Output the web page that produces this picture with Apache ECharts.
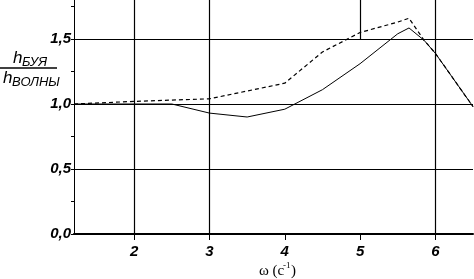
<!DOCTYPE html>
<html>
<head>
<meta charset="utf-8">
<script src="https://cdn.jsdelivr.net/npm/echarts@6/dist/echarts.min.js"></script>
<style>html,body{margin:0;padding:0;background:#fff}#c{width:474px;height:279px}</style>
</head>
<body>
<div id="c"></div>
<script>
// data
const omegaSolid = [1.2, 2.0, 2.5, 3.0, 3.5, 4.0, 4.5, 5.0, 5.5, 5.65, 5.85, 6.0, 6.5];
const ratioSolid = [1.0, 1.0, 1.0, 0.93, 0.9, 0.96, 1.11, 1.31, 1.54, 1.585, 1.49, 1.39, 0.98];
const omegaDashed = [1.2, 2.0, 2.5, 3.0, 3.5, 4.0, 4.5, 5.0, 5.5, 5.65, 5.85, 6.0, 6.5];
const ratioDashed = [1.0, 1.02, 1.03, 1.04, 1.1, 1.16, 1.40, 1.55, 1.63, 1.66, 1.49, 1.39, 0.98];
const xTicks = [2, 3, 4, 5, 6];
const yTicks = [0, 0.5, 1.0, 1.5];
const yMinorTicks = [0.25, 0.75, 1.25, 1.75];
const xGridFull = [2, 3, 6];
const xGridPartial = [5];
const yGrid = [0.5, 1.0, 1.5];
const xMin = 1.2, xMax = 6.5, yMin = 0, yMax = 1.8;

const chart = echarts.init(document.getElementById('c'), null, {renderer: 'canvas'});
const fmt = v => v.toFixed(1).replace('.', ',');
const labelFont = {fontFamily: 'Liberation Sans', fontWeight: 'bold', fontStyle: 'italic', fontSize: 15, color: '#000'};

const gridMarks = [];
xGridFull.forEach(x => gridMarks.push([{coord: [x, yMin]}, {coord: [x, yMax]}]));
xGridPartial.forEach(x => gridMarks.push([{coord: [x, 1.5]}, {coord: [x, yMax]}]));
yGrid.forEach(y => gridMarks.push([{coord: [xMin, y]}, {coord: [xMax, y]}]));

chart.setOption({
  animation: false,
  backgroundColor: '#fff',
  grid: {left: 74, right: 1, top: 0, bottom: 45, containLabel: false},
  xAxis: {
    type: 'value', min: xMin, max: xMax,
    axisLine: {show: true, onZero: false, lineStyle: {color: '#000', width: 2}},
    axisTick: {show: true, customValues: xTicks, length: 6, inside: false, lineStyle: {color: '#000', width: 1}},
    axisLabel: Object.assign({customValues: xTicks, margin: 10, formatter: v => String(Math.round(v))}, labelFont),
    splitLine: {show: false}
  },
  yAxis: {
    type: 'value', min: yMin, max: yMax,
    axisLine: {show: true, lineStyle: {color: '#000', width: 1}},
    axisTick: {show: true, customValues: yTicks.concat(yMinorTicks), length: 3, lineStyle: {color: '#000'}},
    axisLabel: Object.assign({customValues: yTicks, margin: 3, formatter: v => fmt(v), padding: [7, 0, 0, 0]}, labelFont),
    splitLine: {show: false}
  },
  series: [
    {
      type: 'line', symbol: 'none', silent: true,
      data: [],
      markLine: {
        silent: true, symbol: 'none', animation: false,
        label: {show: false},
        lineStyle: {color: '#000', width: 1.2, type: 'solid'},
        data: gridMarks
      }
    },
    {
      type: 'line', symbol: 'none',
      data: omegaSolid.map((x, i) => [x, ratioSolid[i]]),
      lineStyle: {color: '#000', width: 1, type: 'solid'}
    },
    {
      type: 'line', symbol: 'none',
      data: omegaDashed.map((x, i) => [x, ratioDashed[i]]),
      lineStyle: {color: '#000', width: 1.2, type: [4, 3]}
    }
  ],
  graphic: [
    {type: 'text', left: 13, top: 50, style: {text: 'h', font: 'italic 17px "Liberation Sans"', fill: '#000'}},
    {type: 'text', left: 22, top: 56, style: {text: 'БУЯ', font: 'italic 13px "Liberation Sans"', fill: '#000'}},
    {type: 'line', shape: {x1: 0, y1: 68, x2: 57, y2: 68}, style: {stroke: '#000', lineWidth: 1.5}},
    {type: 'text', left: 3, top: 70, style: {text: 'h', font: 'italic 17px "Liberation Sans"', fill: '#000'}},
    {type: 'text', left: 12, top: 76, style: {text: 'ВОЛНЫ', font: 'italic 13px "Liberation Sans"', fill: '#000'}},
    {type: 'text', left: 259, top: 264, style: {text: 'ω (с', font: '15px "Liberation Serif"', fill: '#000'}},
    {type: 'text', left: 283, top: 261, style: {text: '-1', font: '9px "Liberation Serif"', fill: '#000'}},
    {type: 'text', left: 291, top: 264, style: {text: ')', font: '15px "Liberation Serif"', fill: '#000'}}
  ]
});
</script>
</body>
</html>
